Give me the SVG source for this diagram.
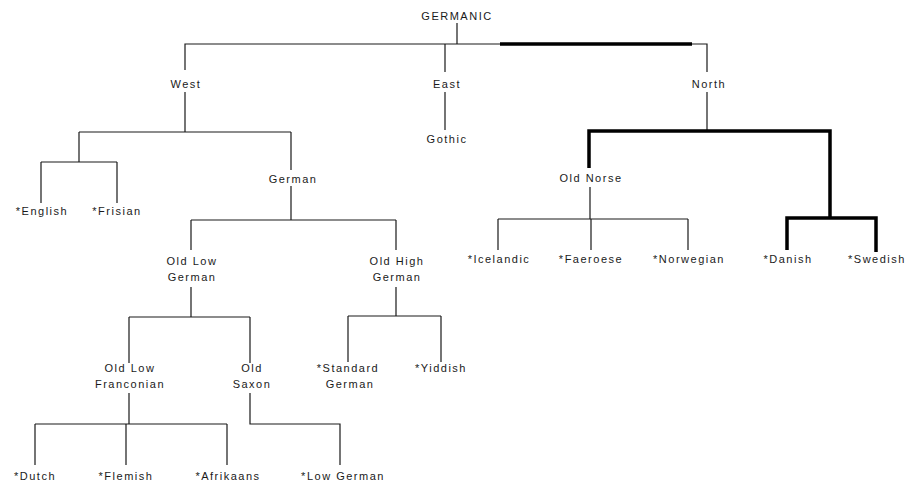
<svg xmlns="http://www.w3.org/2000/svg" width="909" height="484" viewBox="0 0 909 484">
<style>
text{font-family:"Liberation Sans","DejaVu Sans",sans-serif;font-size:11px;letter-spacing:1.5px;fill:#1a1a1a;text-anchor:middle}
.l{stroke:#1a1a1a;stroke-width:1.2;fill:none}
.t{stroke:#000;stroke-width:3.5;fill:none}
</style>
<rect width="909" height="484" fill="#fff"/>
<g id="connectors">
<path class="l" d="M457 23V44M185 70V44H707V72M445 44V72M185 92V132M79 132H291M79 132V162M41 162H117M41 162V203M117 162V203M291 132V170M291 186V220M191 220H396M191 220V250M396 220V250M191 287V317M129 317H250M129 317V363M250 317V363M396 287V316M348 316H441M348 316V362M441 316V362M129 393V424M35 424H227M35 424V465M126 424V465M227 424V465M250 393V424H340V465M445 92V130M707 92V131M590 187V219M498 219H688M498 219V250M591 219V250M688 219V250"/>
<path class="t" d="M500 44H692M589 168V131H830V218M787 250V218H876V252"/>
</g>
<g id="germanic"><text x="457" y="20">GERMANIC</text></g>
<g id="west"><text x="186" y="88">West</text></g>
<g id="east"><text x="447" y="88">East</text></g>
<g id="north"><text x="709" y="88">North</text></g>
<g id="gothic"><text x="447" y="143">Gothic</text></g>
<g id="english"><text x="42" y="215">*English</text></g>
<g id="frisian"><text x="117" y="215">*Frisian</text></g>
<g id="german"><text x="293" y="183">German</text></g>
<g id="old-low-german"><text x="192" y="265">Old Low</text><text x="192" y="281">German</text></g>
<g id="old-high-german"><text x="397" y="265">Old High</text><text x="397" y="281">German</text></g>
<g id="old-low-franconian"><text x="130" y="372">Old Low</text><text x="130" y="388">Franconian</text></g>
<g id="old-saxon"><text x="252" y="372">Old</text><text x="252" y="388">Saxon</text></g>
<g id="standard-german"><text x="348" y="372">*Standard</text><text x="350" y="388">German</text></g>
<g id="yiddish"><text x="441" y="372">*Yiddish</text></g>
<g id="dutch"><text x="35" y="480">*Dutch</text></g>
<g id="flemish"><text x="126" y="480">*Flemish</text></g>
<g id="afrikaans"><text x="228" y="480">*Afrikaans</text></g>
<g id="low-german"><text x="343" y="480">*Low German</text></g>
<g id="old-norse"><text x="591" y="182">Old Norse</text></g>
<g id="icelandic"><text x="499" y="263">*Icelandic</text></g>
<g id="faeroese"><text x="591" y="263">*Faeroese</text></g>
<g id="norwegian"><text x="689" y="263">*Norwegian</text></g>
<g id="danish"><text x="788" y="263">*Danish</text></g>
<g id="swedish"><text x="877" y="263">*Swedish</text></g>
</svg>
